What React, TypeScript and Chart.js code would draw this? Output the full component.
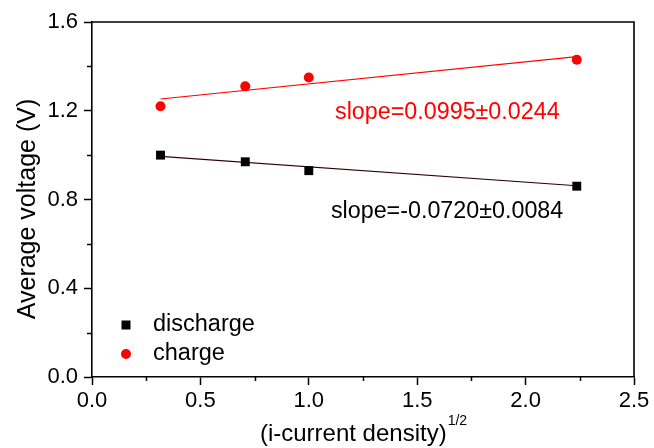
import React, { useEffect, useRef } from "react";
import { Chart, registerables } from "chart.js";

Chart.register(...registerables);

// ---- data ----
const xValues = [0.316, 0.707, 1.0, 2.236];
const dischargeV = [1.0, 0.97, 0.93, 0.86];
const chargeV = [1.22, 1.31, 1.35, 1.43];
const fitX = [0.316, 2.236];
const dischargeFit = [0.994, 0.862];
const chargeFit = [1.253, 1.444];
const xTicks = [0, 0.5, 1.0, 1.5, 2.0, 2.5];
const yTicks = [0, 0.4, 0.8, 1.2, 1.6];
const xMinorTicks = [0.25, 0.75, 1.25, 1.75, 2.25];
const yMinorTicks = [0.2, 0.6, 1.0, 1.4];
const seriesNames = ["discharge", "charge"];
const slopeLabels = ["slope=-0.0720±0.0084", "slope=0.0995±0.0244"];
const xTitle = "(i-current density)";
const xTitleSup = "1/2";
const yTitle = "Average voltage (V)";

const FONT = "'Liberation Sans', Arial, sans-serif";
const RED = "#ff0000";
const BLACK = "#000000";
const DARK_FIT = "#300000";

const overlayPlugin = {
  id: "overlay",
  afterDraw(chart: any) {
    const ctx = chart.ctx as CanvasRenderingContext2D;
    const { left, right, top, bottom } = chart.chartArea;
    const xs = chart.scales.x;
    const ys = chart.scales.y;
    ctx.save();
    // frame top/right
    ctx.strokeStyle = BLACK;
    ctx.lineWidth = 1.6;
    ctx.beginPath();
    ctx.moveTo(left, top);
    ctx.lineTo(right, top);
    ctx.lineTo(right, bottom);
    ctx.stroke();
    // minor ticks
    ctx.lineWidth = 1.5;
    ctx.beginPath();
    xMinorTicks.forEach((v) => {
      const px = Math.round(xs.getPixelForValue(v)) + 0.5;
      ctx.moveTo(px, bottom);
      ctx.lineTo(px, bottom + 4);
    });
    yMinorTicks.forEach((v) => {
      const py = Math.round(ys.getPixelForValue(v)) + 0.5;
      ctx.moveTo(left, py);
      ctx.lineTo(left - 5, py);
    });
    ctx.stroke();

    // legend
    const legendX = 126;
    const legendY = [325, 354];
    ctx.font = `23.5px ${FONT}`;
    ctx.textBaseline = "middle";
    ctx.textAlign = "left";
    ctx.fillStyle = BLACK;
    ctx.fillRect(legendX - 4.5, legendY[0] - 4.5, 9, 9);
    ctx.fillText(seriesNames[0], 153, legendY[0]);
    ctx.fillStyle = RED;
    ctx.beginPath();
    ctx.arc(legendX, legendY[1], 5, 0, Math.PI * 2);
    ctx.fill();
    ctx.fillStyle = BLACK;
    ctx.fillText(seriesNames[1], 153, legendY[1]);

    // slope labels
    ctx.font = `23.3px ${FONT}`;
    ctx.fillStyle = BLACK;
    ctx.fillText(slopeLabels[0], xs.getPixelForValue(1.102), ys.getPixelForValue(0.744));
    ctx.fillStyle = RED;
    ctx.fillText(slopeLabels[1], xs.getPixelForValue(1.121), ys.getPixelForValue(1.194));

    // y title
    ctx.fillStyle = BLACK;
    ctx.font = `25px ${FONT}`;
    ctx.save();
    ctx.translate(28, 209);
    ctx.rotate(-Math.PI / 2);
    ctx.textAlign = "center";
    ctx.textBaseline = "middle";
    ctx.fillText(yTitle, 0, 0);
    ctx.restore();

    // x title with superscript
    ctx.font = `24px ${FONT}`;
    const mainW = ctx.measureText(xTitle).width;
    ctx.font = `14px ${FONT}`;
    const supW = ctx.measureText(xTitleSup).width;
    const cx = (left + right) / 2;
    const startX = cx - (mainW + supW) / 2;
    ctx.textAlign = "left";
    ctx.textBaseline = "alphabetic";
    ctx.font = `24px ${FONT}`;
    ctx.fillText(xTitle, startX, 441);
    ctx.font = `14px ${FONT}`;
    ctx.fillText(xTitleSup, startX + mainW + 1, 425);
    ctx.restore();
  },
};

export default function App() {
  const canvasRef = useRef<HTMLCanvasElement | null>(null);

  useEffect(() => {
    const canvas = canvasRef.current;
    if (!canvas) return;
    const chart = new Chart(canvas, {
      type: "scatter",
      data: {
        datasets: [
          {
            label: seriesNames[0] + " fit",
            data: fitX.map((x, i) => ({ x, y: dischargeFit[i] })),
            showLine: true,
            borderColor: DARK_FIT,
            borderWidth: 1.2,
            pointRadius: 0,
            order: 3,
          },
          {
            label: seriesNames[1] + " fit",
            data: fitX.map((x, i) => ({ x, y: chargeFit[i] })),
            showLine: true,
            borderColor: RED,
            borderWidth: 1.2,
            pointRadius: 0,
            order: 4,
          },
          {
            label: seriesNames[0],
            data: xValues.map((x, i) => ({ x, y: dischargeV[i] })),
            pointStyle: "rect",
            pointRadius: 6.3,
            pointBackgroundColor: BLACK,
            pointBorderColor: BLACK,
            pointBorderWidth: 0,
            showLine: false,
            order: 1,
          },
          {
            label: seriesNames[1],
            data: xValues.map((x, i) => ({ x, y: chargeV[i] })),
            pointStyle: "circle",
            pointRadius: 5,
            pointBackgroundColor: RED,
            pointBorderColor: RED,
            pointBorderWidth: 0,
            showLine: false,
            order: 2,
          },
        ],
      },
      options: {
        responsive: false,
        devicePixelRatio: 1,
        animation: false,
        layout: { padding: { left: 0, right: 20, top: 22, bottom: 0 } },
        plugins: {
          legend: { display: false },
          tooltip: { enabled: false },
        },
        scales: {
          x: {
            type: "linear",
            min: 0,
            max: 2.5,
            afterBuildTicks: (s: any) => {
              s.ticks = xTicks.map((v) => ({ value: v }));
            },
            afterFit: (s: any) => {
              s.height = 71;
            },
            ticks: {
              color: BLACK,
              font: { family: FONT, size: 22 },
              padding: 3,
              maxRotation: 0,
              callback: (v: any) => Number(v).toFixed(1),
            },
            grid: {
              drawOnChartArea: false,
              drawTicks: true,
              tickLength: 8,
              tickWidth: 1.5,
              tickColor: BLACK,
            },
            border: { display: true, color: BLACK, width: 1.6 },
          },
          y: {
            type: "linear",
            min: 0,
            max: 1.6,
            afterBuildTicks: (s: any) => {
              s.ticks = yTicks.map((v) => ({ value: v }));
            },
            afterFit: (s: any) => {
              s.width = 92;
            },
            ticks: {
              color: BLACK,
              font: { family: FONT, size: 22 },
              padding: 6,
              callback: (v: any) => Number(v).toFixed(1),
            },
            grid: {
              drawOnChartArea: false,
              drawTicks: true,
              tickLength: 8,
              tickWidth: 1.5,
              tickColor: BLACK,
            },
            border: { display: true, color: BLACK, width: 1.6 },
          },
        },
      },
      plugins: [overlayPlugin],
    } as any);
    return () => chart.destroy();
  }, []);

  return (
    <div
      style={{
        position: "fixed",
        left: 0,
        top: 0,
        width: 654,
        height: 448,
        background: "#fff",
      }}
    >
      <canvas ref={canvasRef} width={654} height={448} style={{ display: "block" }} />
    </div>
  );
}
